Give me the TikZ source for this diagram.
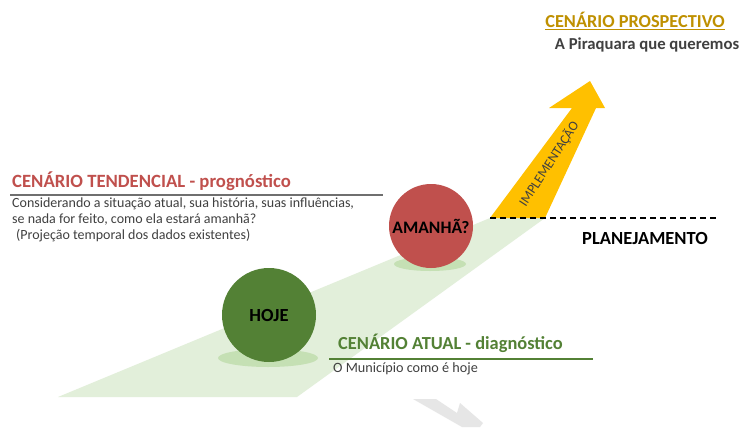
\documentclass[tikz,border=0pt]{standalone}
\usepackage{fontspec}
\setmainfont{Carlito}
\definecolor{bandgreen}{HTML}{E2EFDA}
\definecolor{shadowgreen}{HTML}{C5E0B4}
\definecolor{darkgreen}{HTML}{538135}
\definecolor{tendred}{HTML}{C0504D}
\definecolor{arrowyellow}{HTML}{FFC000}
\definecolor{goldtitle}{HTML}{BF9000}
\definecolor{darktext}{HTML}{404040}
\definecolor{watermark}{HTML}{E6E6E6}
\definecolor{rulegray}{HTML}{6F6F6F}
\tikzset{
  ball/.style={circle, inner sep=0pt, minimum size=#1, text=black, font=\fontsize{18.5}{20}\selectfont\bfseries},
  lbl/.style={inner sep=0pt, anchor=west},
}
\begin{document}
\begin{tikzpicture}[x=1pt,y=-1pt]
\useasboundingbox (0,0) rectangle (744,431);
\fill[white] (0,0) rectangle (744,431);
% watermark
\fill[watermark] (413,399) -- (436,399) -- (457,413) -- (460,403) -- (483,423) -- (480,427) -- (462,427) -- cycle;
% green band
\fill[bandgreen] (58,397) -- (297,397) -- (545,218) -- (490,218) -- cycle;
% yellow arrow
\fill[arrowyellow] (490,218) -- (545,218) -- (596,108) -- (605,108) -- (590,81) -- (549,108) -- (572,108) -- cycle;
\node[rotate=57, inner sep=0pt, text=darktext, font=\fontsize{13.5}{15}\selectfont] (impl) at (549,164) {IMPLEMENTAÇÃO};
% dashed line
\coordinate (d1) at (490,218);
\coordinate (d2) at (719,218);
\draw[black, line width=1.3pt, dash pattern=on 6pt off 4pt] (d1) -- (d2);
\node[inner sep=0pt, font=\fontsize{18.5}{20}\selectfont\bfseries] (plan) at (645,238) {PLANEJAMENTO};
% prospectivo
\node[inner sep=0pt, text=goldtitle, font=\fontsize{18.3}{20}\selectfont\bfseries] (prosp) at (635,21) {\underline{CENÁRIO PROSPECTIVO}};
\node[inner sep=0pt, text=darktext, font=\fontsize{16.7}{19}\selectfont\bfseries] (pira) at (647,45) {A Piraquara que queremos};
% shadows
\fill[shadowgreen] (268,358) ellipse [x radius=50, y radius=9];
\fill[shadowgreen] (430,264) ellipse [x radius=36, y radius=7];
% balls
\node[ball=94pt, fill=darkgreen] (hoje) at (269,315) {HOJE};
\node[ball=84pt, fill=tendred, font=\fontsize{17.5}{19}\selectfont\bfseries] (amanha) at (431,226) {AMANHÃ?};
% tendencial
\node[lbl, text=tendred, font=\fontsize{18.7}{20}\selectfont\bfseries] (tend) at (12,181) {CENÁRIO TENDENCIAL - prognóstico};
\coordinate (t1) at (10,195);
\coordinate (t2) at (383,195);
\draw[rulegray, line width=1.5pt] (t1) -- (t2);
\node[inner sep=0pt, anchor=north west, align=left, text=darktext, font=\fontsize{14}{16}\selectfont] (tendtxt) at (12,198)
  {Considerando a situação atual, sua história, suas influências,\\se nada for feito, como ela estará amanhã?\\\hspace{4pt}(Projeção temporal dos dados existentes)};
% atual
\node[lbl, text=darkgreen, font=\fontsize{18.4}{20}\selectfont\bfseries] (atual) at (338,343) {CENÁRIO ATUAL - diagnóstico};
\coordinate (a1) at (329,359);
\coordinate (a2) at (593,359);
\draw[darkgreen, line width=1.5pt] (a1) -- (a2);
\node[lbl, text=darktext, font=\fontsize{14.2}{16}\selectfont] (mun) at (333,369) {O Município como é hoje};
\end{tikzpicture}
\end{document}
